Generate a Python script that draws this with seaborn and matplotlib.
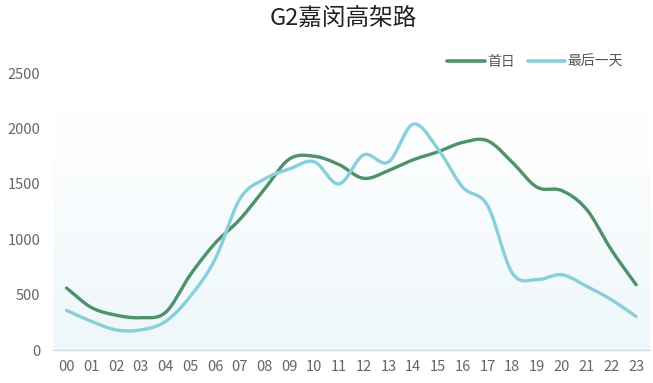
import numpy as np
import pandas as pd
import matplotlib
matplotlib.use("Agg")
import matplotlib.pyplot as plt
import seaborn as sns
from matplotlib.colors import LinearSegmentedColormap

hours = ["00", "01", "02", "03", "04", "05", "06", "07", "08", "09", "10", "11",
         "12", "13", "14", "15", "16", "17", "18", "19", "20", "21", "22", "23"]
first_day = [560, 385, 315, 292, 340, 680, 965, 1180, 1455, 1725, 1750, 1675,
             1550, 1620, 1718, 1790, 1875, 1890, 1695, 1470, 1440, 1270, 905, 590]
last_day = [358, 260, 182, 182, 258, 485, 820, 1365, 1545, 1635, 1700, 1500,
            1762, 1697, 2040, 1815, 1470, 1305, 695, 636, 680, 576, 455, 303]
series_names = ["首日", "最后一天"]
yticks = [0, 500, 1000, 1500, 2000, 2500]

GREEN = "#4f9168"
CYAN = "#88d0d9"

sns.set_theme(style="white")
plt.rcParams['font.family'] = ['Noto Sans CJK SC', 'DejaVu Sans']


def catmull_rom(y, n=20):
    y = np.asarray(y, dtype=float)
    p = np.concatenate([[2 * y[0] - y[1]], y, [2 * y[-1] - y[-2]]])
    xs, ys = [], []
    for i in range(len(y) - 1):
        p0, p1, p2, p3 = p[i], p[i + 1], p[i + 2], p[i + 3]
        t = np.linspace(0, 1, n, endpoint=False)
        c = 0.5 * ((2 * p1) + (-p0 + p2) * t + (2 * p0 - 5 * p1 + 4 * p2 - p3) * t ** 2
                   + (-p0 + 3 * p1 - 3 * p2 + p3) * t ** 3)
        xs.append(i + t)
        ys.append(c)
    xs.append([len(y) - 1])
    ys.append([y[-1]])
    return np.concatenate(xs), np.concatenate(ys)


frames = []
for name, vals in zip(series_names, [first_day, last_day]):
    xs, ys = catmull_rom(vals)
    frames.append(pd.DataFrame({"x": xs, "y": ys, "series": name}))
df = pd.concat(frames, ignore_index=True)

fig = plt.figure(figsize=(6.53, 3.83), dpi=100)
ax = fig.add_axes([0.081, 0.086, 0.914, 0.723])

# gradient background
grad = np.linspace(0, 1, 256).reshape(-1, 1)
cmap = LinearSegmentedColormap.from_list("bg", ["#eef7fb", "#ffffff"])
ax.imshow(grad, extent=[-0.55, 23.55, 0, 2180], origin="lower", aspect="auto",
          cmap=cmap, zorder=0)

sns.lineplot(data=df, x="x", y="y", hue="series", hue_order=series_names,
             palette=[GREEN, CYAN], sort=False, linewidth=2.4, ax=ax,
             estimator=None, zorder=3)

ax.set_xlim(-0.55, 23.55)
ax.set_ylim(0, 2500)
ax.set_xticks(range(len(hours)))
ax.set_xticklabels(hours)
ax.set_yticks(yticks)
ax.set_xlabel("")
ax.set_ylabel("")
ax.tick_params(axis="both", colors="#666666", length=0)
ax.tick_params(axis="x", pad=7, labelsize=10.5)
ax.tick_params(axis="y", pad=9, labelsize=10.5)
for side in ["top", "right", "left"]:
    ax.spines[side].set_visible(False)
ax.spines["bottom"].set_color("#d9d9d9")
ax.spines["bottom"].set_linewidth(1)

fig.text(0.525, 1 - 18 / 383, "G2嘉闵高架路", ha="center", va="center",
         fontsize=17, color="#222222")

leg = ax.legend(loc="center left", bbox_to_anchor=(447 / 653, 1 - 62 / 383),
                bbox_transform=fig.transFigure, ncol=2, frameon=False,
                fontsize=10, handlelength=2.7, columnspacing=0.9, handletextpad=0.2,
                borderpad=0, borderaxespad=0)
for t in leg.get_texts():
    t.set_color("#555555")
for h in leg.get_lines():
    h.set_linewidth(2.6)

fig.savefig("out.png", dpi=100, facecolor="white")
